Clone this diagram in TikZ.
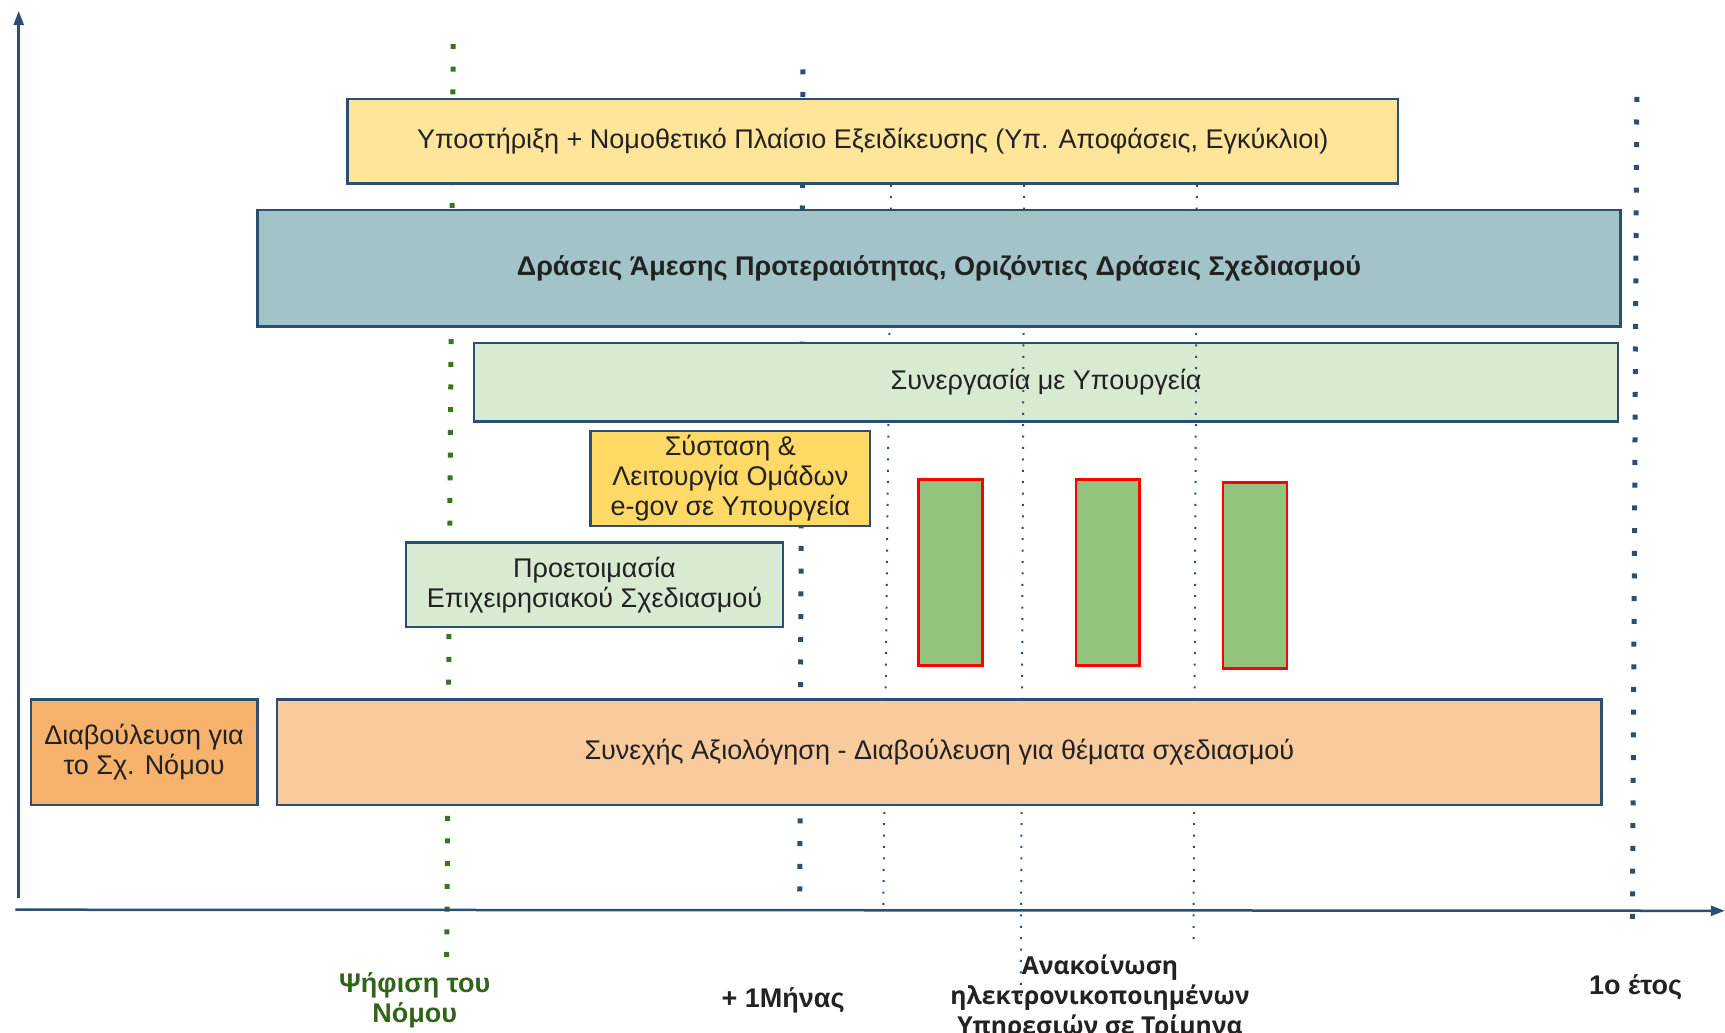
\documentclass[tikz,border=0pt]{standalone}
\usepackage{fontspec}
\setmainfont{Liberation Sans}
\newfontfamily\labfont{Open Sans}
\usetikzlibrary{arrows.meta}
\definecolor{navy}{HTML}{2A4F73}
\definecolor{ylw}{HTML}{FFE599}
\definecolor{blu}{HTML}{A2C4C9}
\definecolor{lgrn}{HTML}{D9EAD3}
\definecolor{gold}{HTML}{FFD966}
\definecolor{orng}{HTML}{F6B26B}
\definecolor{lorng}{HTML}{F9CB9C}
\definecolor{bar}{HTML}{93C47D}
\definecolor{dgrn}{HTML}{38761D}
\definecolor{lgtxt}{HTML}{2F6419}
\definecolor{txt}{HTML}{222222}
\tikzset{
  box/.style={draw=navy, line width=2.5pt, inner sep=0pt, align=center, text=txt,
    font=\fontsize{27}{30}\selectfont},
  barbox/.style={draw=red, line width=2.5pt, fill=bar, inner sep=0pt,
    minimum width=63.8pt, minimum height=185.9pt},
  bigdots/.style={line width=5pt, dash pattern=on 5pt off 17.7pt},
  smalldots/.style={line width=2pt, dash pattern=on 2pt off 9.4pt, draw=navy},
  axis/.style={draw=navy, line width=2.5pt, -{Triangle[length=14pt,width=10pt]}},
  lab/.style={font=\fontsize{27}{30}\selectfont\bfseries, align=center, inner sep=0pt, text=txt}
}
\begin{document}
\begin{tikzpicture}[x=1.1pt,y=-1.1pt]
\useasboundingbox (0,0) rectangle (1568.2,938.2);
\clip (0,0) rectangle (1568.2,938.2);
% dotted time lines (behind)
\coordinate (g1) at (412,40);   \coordinate (g2) at (406,880);
\coordinate (m1) at (730,63);   \coordinate (m2) at (727,820);
\coordinate (y1) at (1488,88);  \coordinate (y2) at (1484,848);
\coordinate (a1) at (810,168);  \coordinate (a2) at (803,826);
\coordinate (b1) at (931,168);  \coordinate (b2) at (928,911);
\coordinate (c1) at (1088,168); \coordinate (c2) at (1085,862);
\draw[bigdots, draw=dgrn] (g1) -- (g2);
\draw[bigdots, draw=navy] (m1) -- (m2);
\draw[bigdots, draw=navy] (y1) -- (y2);
\draw[smalldots] (a1) -- (a2);
% Συνεργασία box (under two thin lines)
\node[box, fill=lgrn, minimum width=1144pt, minimum height=78.1pt] (synerg) at (951,347.5) {Συνεργασία με Υπουργεία};
\draw[smalldots] (b1) -- (b2);
\draw[smalldots] (c1) -- (c2);
% boxes
\node[box, fill=ylw, minimum width=1050.5pt, minimum height=84.7pt] (ypost) at (793.5,128.5) {Υποστήριξη + Νομοθετικό Πλαίσιο Εξειδίκευσης (Υπ. Αποφάσεις, Εγκύκλιοι)};
\node[box, fill=blu, minimum width=1362.9pt, minimum height=116.6pt, font=\fontsize{27}{30}\selectfont\bfseries] (draseis) at (853.5,244) {Δράσεις Άμεσης Προτεραιότητας, Οριζόντιες Δράσεις Σχεδιασμού};
\node[box, fill=gold, minimum width=279.4pt, minimum height=94.6pt] (systasi) at (664,435) {Σύσταση \&\\Λειτουργία Ομάδων\\e-gov σε Υπουργεία};
\node[box, fill=lgrn, minimum width=377.3pt, minimum height=84.7pt] (proet) at (540.5,531.5) {Προετοιμασία\\Επιχειρησιακού Σχεδιασμού};
\node[box, fill=orng, minimum width=226.6pt, minimum height=105.6pt] (diab) at (131,684) {Διαβούλευση για\\το Σχ. Νόμου};
\node[box, fill=lorng, minimum width=1324.4pt, minimum height=105.6pt] (synex) at (854,684) {Συνεχής Αξιολόγηση - Διαβούλευση για θέματα σχεδιασμού};
\node[barbox] (bar1) at (864,520.5) {};
\node[barbox] (bar2) at (1007,520.5) {};
\node[barbox] (bar3) at (1141,523) {};
% axes
\coordinate (o1) at (17,816); \coordinate (ytop) at (17,10);
\coordinate (o2) at (14,827); \coordinate (xend) at (1568,828);
\draw[axis] (o1) -- (ytop);
\draw[axis] (o2) -- (xend);
% labels
\node[lab, text=lgtxt] (l1) at (377,909) {Ψήφιση του\\Νόμου};
\node[lab] (l2) at (712,909) {+ 1Μήνας};
\node[lab, anchor=north, font=\labfont\fontsize{24.7}{30}\selectfont\bfseries] (l3) at (1000,868) {Ανακοίνωση\\ηλεκτρονικοποιημένων\\Υπηρεσιών σε Τρίμηνα};
\node[lab] (l4) at (1487,897) {1ο έτος};
\end{tikzpicture}
\end{document}
